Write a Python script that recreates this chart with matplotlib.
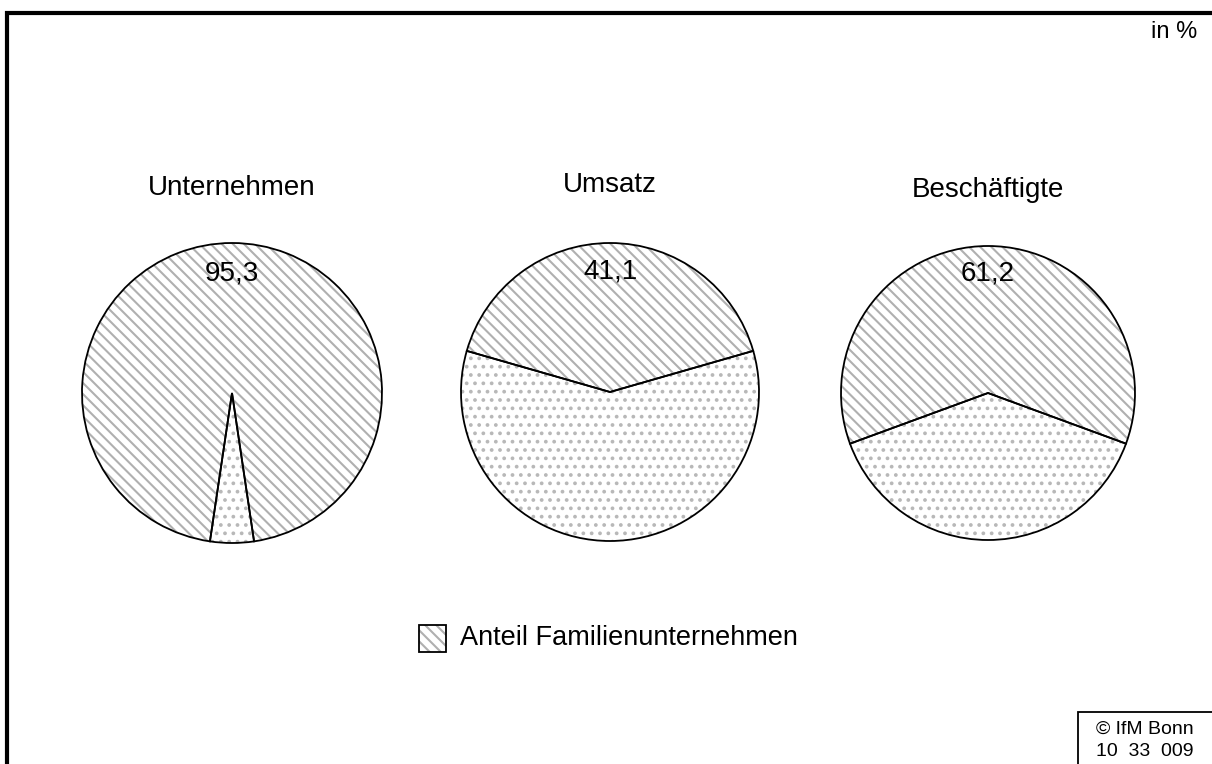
import matplotlib
matplotlib.use("Agg")
import matplotlib.pyplot as plt
from matplotlib.patches import Rectangle

# =========================
# Data
# =========================

categories = ["Unternehmen", "Umsatz", "Beschäftigte"]
familien_anteil = [95.3, 41.1, 61.2]
value_labels = ["95,3", "41,1", "61,2"]
legend_label = "Anteil Familienunternehmen"

# pie centres / radii in pixel coords (y from top)
centers = [(232, 393), (610, 392), (988, 393)]
radii = [150, 149, 147]
title_y = [188, 185, 190]

W, H = 1212, 764

plt.rcParams["font.family"] = ["Liberation Sans", "DejaVu Sans"]
plt.rcParams["hatch.linewidth"] = 1.5

fig = plt.figure(figsize=(W / 100, H / 100), dpi=100)
ax = fig.add_axes([0, 0, 1, 1])

STRIPE_COLOR = "#b0b0b0"
DOT_COLOR = "#b8b8b8"

for name, share, lab, (cx, cy), r, ty in zip(categories, familien_anteil,
                                             value_labels, centers, radii,
                                             title_y):
    vals = [share, 100 - share]
    start = 90 - share / 100 * 360 / 2
    # fill with hatches
    wedges, _ = ax.pie(vals, center=(cx, H - cy), radius=r, startangle=start,
                       colors=["white", "white"], frame=True,
                       wedgeprops=dict(linewidth=0))
    wedges[0].set_hatch("\\\\\\")
    wedges[0].set_edgecolor(STRIPE_COLOR)
    wedges[1].set_hatch("..")
    wedges[1].set_edgecolor(DOT_COLOR)
    # black outlines
    ax.pie(vals, center=(cx, H - cy), radius=r, startangle=start, frame=True,
           colors=["none", "none"],
           wedgeprops=dict(linewidth=1.3, edgecolor="black", fill=False))
    ax.text(cx, H - cy + 120, lab, ha="center", va="center", fontsize=20)
    ax.text(cx, H - ty, name, ha="center", va="center", fontsize=20)

ax.set_xlim(0, W)
ax.set_ylim(0, H)
ax.set_aspect("auto")
ax.axis("off")

# legend
ax.add_patch(Rectangle((419, H - 652), 27, 27, facecolor="white",
                       edgecolor=STRIPE_COLOR, hatch="\\\\\\", linewidth=0))
ax.add_patch(Rectangle((419, H - 652), 27, 27, fill=False,
                       edgecolor="black", linewidth=1.3))
ax.text(460, H - 638, legend_label, ha="left", va="center", fontsize=19.5)

# frame lines (left and top)
ax.plot([7, 7, W + 5], [-5, H - 13, H - 13], color="black", linewidth=3,
        solid_capstyle="butt", solid_joinstyle="miter")

ax.text(1197, H - 32, "in %", ha="right", va="center", fontsize=17)

# copyright box
ax.add_patch(Rectangle((1078, -5), 140, H - 712 + 5, fill=False,
                       edgecolor="black", linewidth=1.3))
ax.text(1145, H - 729, "© IfM Bonn", ha="center", va="center", fontsize=14)
ax.text(1145, H - 751, "10  33  009", ha="center", va="center", fontsize=14)

fig.savefig("out.png", dpi=100)
